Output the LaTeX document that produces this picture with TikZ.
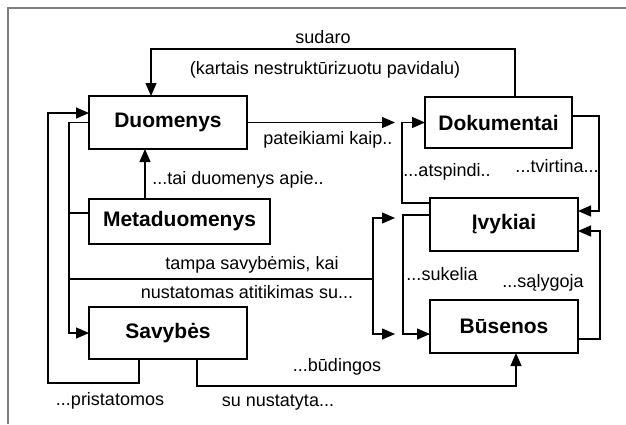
\documentclass[tikz,border=0pt]{standalone}
\usepackage{fontspec}
\setmainfont{Liberation Sans}
\usetikzlibrary{arrows.meta}

\begin{document}
\begin{tikzpicture}[
x=1pt, y=-1pt,
     B/.style = {rectangle, draw, line width=2.5pt,% boxes of the scheme
                 font=\fontsize{21}{24}\selectfont\bfseries,
                 outer sep=0pt, inner sep=0pt},
     L/.style = {inner sep=0pt, font=\fontsize{18}{20}\selectfont},% labels of links
   arr/.style = {-{Triangle[length=13pt,width=11pt]}},
every path/.style = {line width=1.3pt},
                        ]
\useasboundingbox (0,0) rectangle (626,424);
\draw[gray, line width=1.2pt] (8,424) |- (626,8);
% boxes
\node[B, minimum width=158pt, minimum height=53pt] (duom) at (168,122.5) {Duomenys};
\node[B, minimum width=147pt, minimum height=51pt] (dok)  at (498.5,122.5) {Dokumentai};
\node[B, minimum width=181pt, minimum height=45pt] (meta) at (179.5,221.5) {Metaduomenys};
\node[B, minimum width=158pt, minimum height=52pt] (sav)  at (168,333) {Savybės};
\node[B, minimum width=148pt, minimum height=53pt] (ivyk) at (504,224.5) {Įvykiai};
\node[B, minimum width=148pt, minimum height=53pt] (bus)  at (504,326.5) {Būsenos};
% free ends of arrows
\coordinate (pk) at (395,122.5);
\coordinate (tj) at (68,279);
\coordinate (tv) at (373,279);
% links
\draw[arr] ([xshift=16.5pt]dok.north) -- ++(0,-48) -| ([xshift=-17pt]duom.north);
\draw[arr] (duom.east) -- (pk);
\draw[arr] ([yshift=21.5pt]ivyk.west) -- ++(-28,0) |- (dok.west);
\draw[arr] ([yshift=6.5pt]dok.east) -- ++(27,0) |- ([yshift=13.5pt]ivyk.east);
\draw[arr] ([yshift=-12.5pt]bus.east) -- ++(22,0) |- ([yshift=-6.5pt]ivyk.east);
\draw[arr] ([yshift=9.5pt]ivyk.west) -- ++(-27,0) |- ([yshift=-7.5pt]bus.west);
\draw[arr] ([xshift=-34.5pt]meta.north) -- ([xshift=-23pt]duom.south);
\draw[arr] (duom.west) -- ++(-20,0) |- (sav.west);
\draw ([yshift=8.5pt]meta.west) -- ++(-20,0);
\draw (tj) -- (tv);
\draw[arr] (tv) |- (395,218);
\draw[arr] (tv) |- (395,334);
\draw[arr] ([xshift=-29pt]sav.south) -- ++(0,24) -| (48,200) |- ([yshift=9.5pt]duom.west);
\draw[arr] ([xshift=29pt]sav.south) -- ++(0,27) -| ([xshift=12pt]bus.south);
% labels
\node[L] (l1)  at (323,37)  {sudaro};
\node[L] (l2)  at (325,70)  {(kartais nestruktūrizuotu pavidalu)};
\node[L] (l3)  at (328,140) {pateikiami kaip..};
\node[L] (l4)  at (447,172) {...atspindi..};
\node[L] (l5)  at (557,166) {...tvirtina...};
\node[L] (l6)  at (238,180) {...tai duomenys apie..};
\node[L] (l7)  at (252,265) {tampa savybėmis, kai};
\node[L] (l8)  at (247,292) {nustatomas atitikimas su...};
\node[L] (l9)  at (442,274) {...sukelia};
\node[L] (l10) at (543,283) {...sąlygoja};
\node[L] (l11) at (337,367) {...būdingos};
\node[L] (l12) at (110,401) {...pristatomos};
\node[L] (l13) at (278,403) {su nustatyta...};
\end{tikzpicture}
\end{document}
